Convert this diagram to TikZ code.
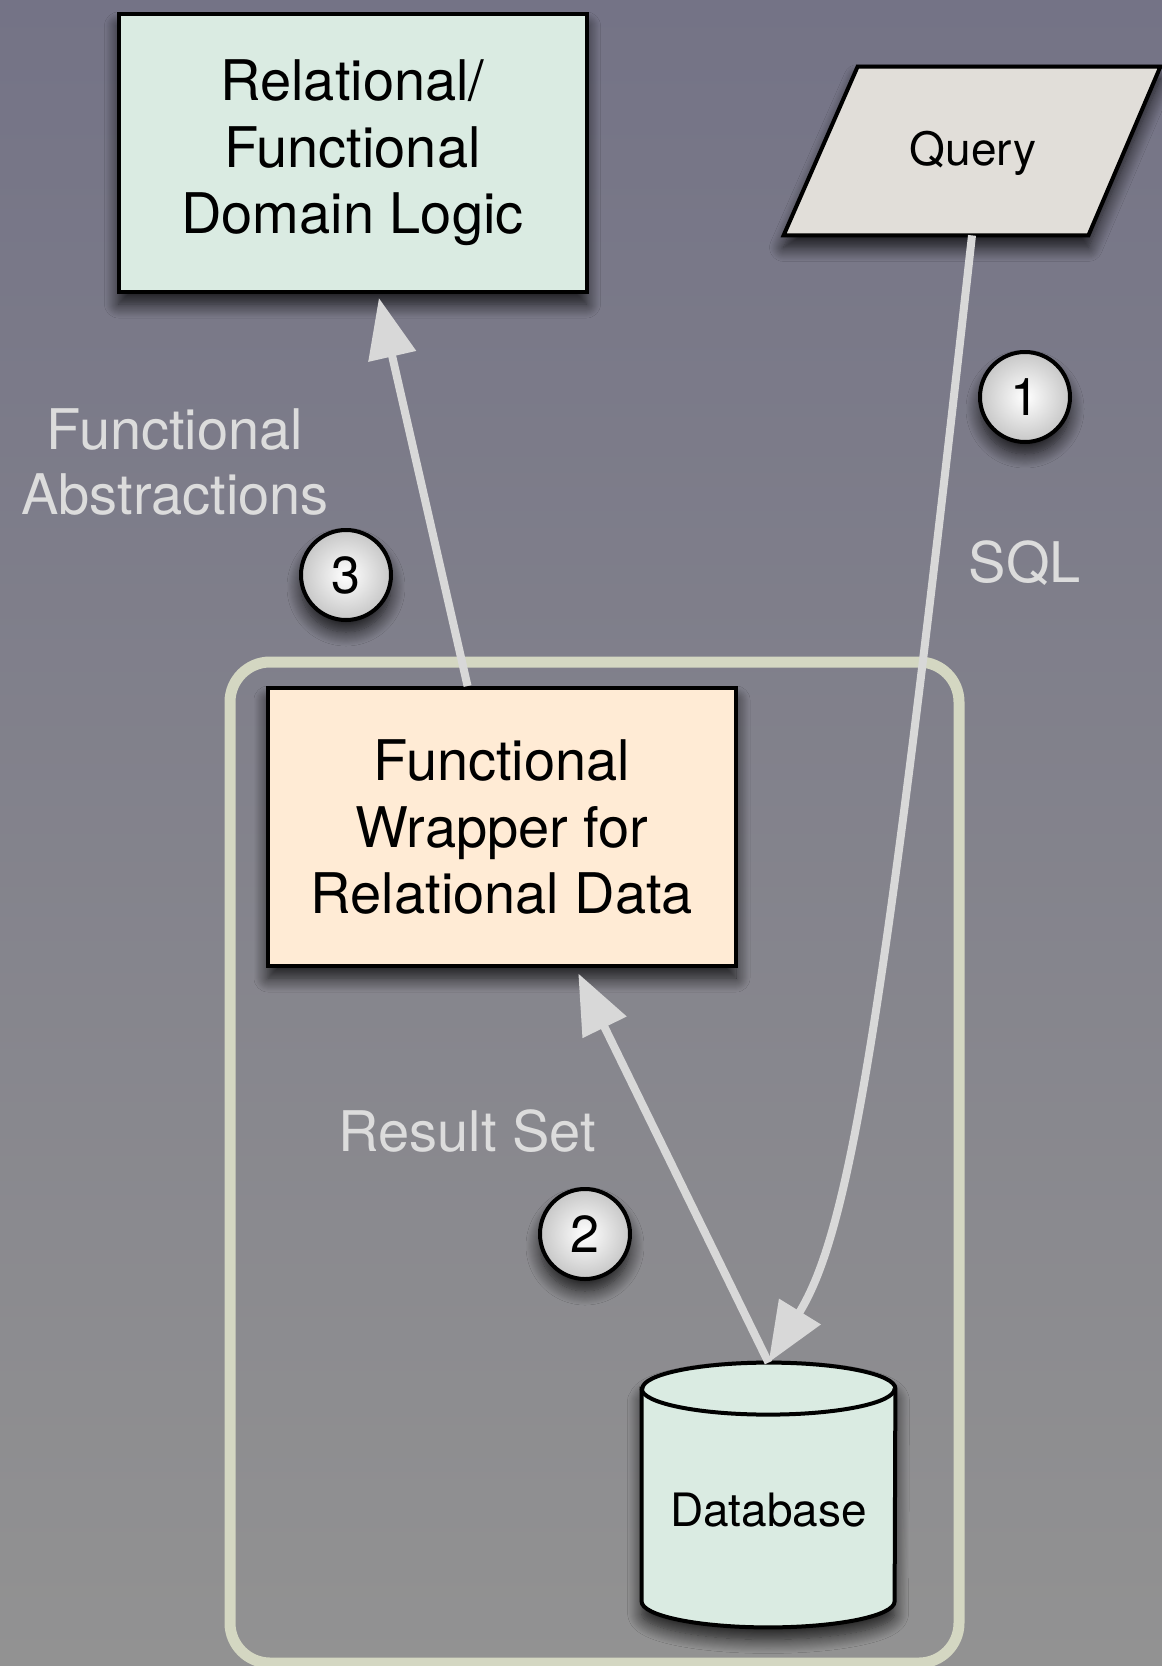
\documentclass[tikz,border=0pt]{standalone}
\usepackage{fontspec}
\setmainfont{TeX Gyre Heros}
\usetikzlibrary{arrows.meta,calc,shadows.blur}

\definecolor{bgtop}{RGB}{116,115,134}
\definecolor{bgbot}{RGB}{146,146,146}
\definecolor{mint}{RGB}{218,235,226}
\definecolor{peach}{RGB}{255,235,213}
\definecolor{paper}{RGB}{225,222,217}
\definecolor{framec}{RGB}{212,215,194}
\definecolor{linkc}{RGB}{216,216,216}
\definecolor{labelc}{RGB}{220,220,220}

\tikzset{
  softshadow/.style={blur shadow={shadow xshift=0pt, shadow yshift=-6pt,
      shadow blur radius=7pt, shadow blur steps=14, shadow opacity=80}},
  box/.style={rectangle, draw=black, line width=2pt, minimum width=234pt,
      minimum height=139pt, inner sep=0pt, align=center,
      font=\fontsize{28}{33.3}\selectfont, softshadow},
  badge/.style={circle, draw=black, line width=2pt, minimum size=45pt,
      inner sep=0pt, inner color=white, outer color=black!22,
      font=\fontsize{26}{26}\selectfont, softshadow},
  caption/.style={text=labelc, align=center, font=\fontsize{28}{32.5}\selectfont},
  link/.style={draw=linkc, line width=4pt, -{Triangle[length=30pt,width=23.5pt]}},
}

\begin{document}
\begin{tikzpicture}[x=0.5pt, y=-0.5pt]
  \useasboundingbox (0,0) rectangle (1162,1666);
  % backdrop
  \shade[top color=bgtop, bottom color=bgbot] (0,0) rectangle (1162,1666);

  % grouping frame
  \node[draw=framec, line width=5.5pt, rounded corners=20pt, minimum width=364.5pt,
        minimum height=500.5pt, inner sep=0pt] (frame) at (594.5,1162.5) {};

  % main blocks
  \node[box, fill=mint] (logic) at (352.5,153) {Relational/\\Functional\\Domain Logic};
  \node[box, fill=peach] (wrap) at (502,827) {Functional\\Wrapper for\\Relational Data};

  % query parallelogram drawn around its text node
  \node[minimum width=151pt, minimum height=84pt, inner sep=0pt] (query) at (972,151) {};
  \path[fill=paper, draw=black, line width=2pt, line join=miter, softshadow]
    ($(query.north west)+(37,0)$) -- ($(query.north east)+(37,0)$)
    -- ($(query.south east)+(-35,0)$) -- ($(query.south west)+(-37,0)$) -- cycle;
  \node[font=\fontsize{23}{23}\selectfont] (qlabel) at ($(query.center)+(1,2)$) {Query};

  % database cylinder
  \node[minimum width=126.5pt, minimum height=132pt, inner sep=0pt] (db) at (768.5,1495) {};
  \path[fill=mint, draw=black, line width=2pt, softshadow]
    ($(db.north west)+(0,26)$) -- ($(db.south west)+(0,-26)$)
    arc[start angle=180, end angle=0, x radius=126.5, y radius=26]
    -- ($(db.north east)+(0,26)$)
    arc[start angle=0, end angle=-180, x radius=126.5, y radius=26] -- cycle;
  \draw[line width=2pt] ($(db.north west)+(0,26)$)
    arc[start angle=180, end angle=0, x radius=126.5, y radius=26];
  \node[font=\fontsize{23}{23}\selectfont] (dblabel) at ($(db.center)+(0,15)$) {Database};

  % connectors
  \draw[link] (query.center |- query.south)
    .. controls +(-89,800) and +(80,-130) .. (db.north);
  \draw[link, shorten >=3pt] (db.north) -- ($(wrap.south west)!0.656!(wrap.south east)$);
  \draw[link, shorten >=2pt] ($(wrap.north west)!0.427!(wrap.north east)$)
    -- ($(logic.south west)!0.554!(logic.south east)$);

  % step markers
  \node[badge] (one) at (1025,397) {1};
  \node[badge] (two) at (585,1234) {2};
  \node[badge] (three) at (346,575) {3};

  % connector captions
  \node[caption] (abs) at (175,462) {Functional\\Abstractions};
  \node[caption] (sql) at (1025,563) {SQL};
  \node[caption] (rs) at (467,1131) {Result Set};
\end{tikzpicture}
\end{document}
